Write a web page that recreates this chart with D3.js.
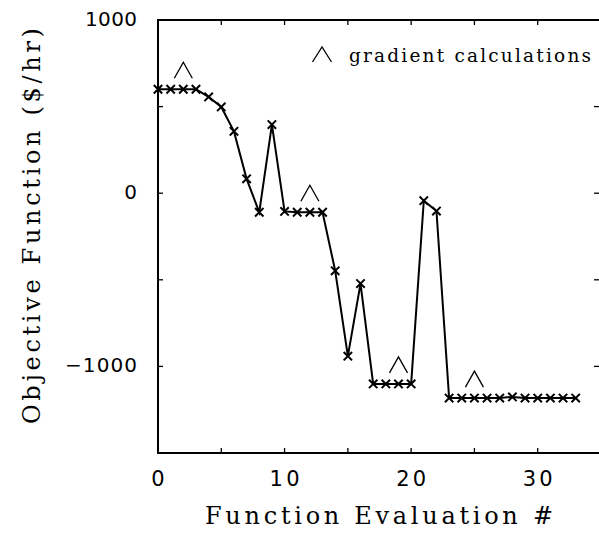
<!DOCTYPE html>
<html><head><meta charset="utf-8">
<script src="https://cdn.jsdelivr.net/npm/d3@7"></script>
<style>body{margin:0;background:#fff}svg{display:block}</style>
</head><body>
<script>
const evals = d3.range(0, 34);
const objective = [600, 600, 600, 600, 556, 498, 357, 83, -110, 396,
  -105, -110, -110, -110, -448, -941, -522, -1101, -1101, -1101,
  -1101, -43, -103, -1183, -1183, -1183, -1183, -1183, -1176, -1183,
  -1183, -1183, -1183, -1183];
const gradientAt = [2, 12, 19, 25];
const xTicks = [0, 10, 20, 30];
const yTicks = [-1000, 0, 1000];
const xMinor = d3.range(0, 36, 5);
const yMinor = d3.range(-1500, 1001, 500);

const W = 599, H = 534;
const svg = d3.select("body").append("svg").attr("width", W).attr("height", H);
const x = d3.scaleLinear().domain([0, 35]).range([158, 601]);
const y = d3.scaleLinear().domain([-1500, 1000]).range([453, 20]);
const serif = "'DejaVu Serif', serif";
const sans = "'DejaVu Sans', sans-serif";

// frame
svg.append("rect").attr("x", x(0)).attr("y", y(1000))
  .attr("width", x(35) - x(0)).attr("height", y(-1500) - y(1000))
  .attr("fill", "none").attr("stroke", "#000").attr("stroke-width", 2);

const tl = 5;
const tk = svg.append("g").attr("stroke", "#000").attr("stroke-width", 1.3);
xMinor.filter(v => v > 0 && v < 35).forEach(v => {
  tk.append("line").attr("x1", x(v)).attr("x2", x(v)).attr("y1", y(-1500)).attr("y2", y(-1500) - tl);
  tk.append("line").attr("x1", x(v)).attr("x2", x(v)).attr("y1", y(1000)).attr("y2", y(1000) + tl);
});
yMinor.filter(v => v > -1500 && v < 1000).forEach(v => {
  tk.append("line").attr("x1", x(0)).attr("x2", x(0) + tl).attr("y1", y(v)).attr("y2", y(v));
  tk.append("line").attr("x1", 599).attr("x2", 599 - tl).attr("y1", y(v)).attr("y2", y(v));
});

// tick labels
xTicks.forEach(v => {
  const t = svg.append("text").attr("x", x(v)).attr("y", 486).attr("text-anchor", "middle")
    .attr("font-family", sans).attr("font-size", 21).text(v);
  if (String(v).length > 1) t.attr("textLength", 30).attr("lengthAdjust", "spacing");
});
yTicks.forEach(v => {
  const s = v < 0 ? "\u22121000" : String(v);
  const t = svg.append("text").attr("x", 137).attr("y", y(v) + 6).attr("text-anchor", "end")
    .attr("font-family", sans).attr("font-size", 20).text(s);
  if (v === 1000) t.attr("textLength", 52).attr("lengthAdjust", "spacing");
  if (v === -1000) t.attr("textLength", 72).attr("lengthAdjust", "spacing");
});

// axis titles
svg.append("text").attr("x", 379).attr("y", 524).attr("text-anchor", "middle")
  .attr("font-family", serif).attr("font-size", 24)
  .attr("textLength", 348).attr("lengthAdjust", "spacing").text("Function Evaluation #");
svg.append("text").attr("transform", "translate(40,226) rotate(-90)").attr("text-anchor", "middle")
  .attr("font-family", serif).attr("font-size", 24)
  .attr("textLength", 396).attr("lengthAdjust", "spacing").text("Objective Function ($/hr)");

// data line
const pts = evals.map((e, i) => [e, objective[i]]);
svg.append("path").datum(pts)
  .attr("d", d3.line().x(d => x(d[0])).y(d => y(d[1])))
  .attr("fill", "none").attr("stroke", "#000").attr("stroke-width", 2);
const s = 4.2;
svg.append("g").selectAll("path").data(pts).join("path")
  .attr("d", d => {
    const cx = x(d[0]), cy = y(d[1]);
    return `M${cx - s},${cy - s}L${cx + s},${cy + s}M${cx - s},${cy + s}L${cx + s},${cy - s}`;
  })
  .attr("stroke", "#000").attr("stroke-width", 2).attr("fill", "none");

// gradient carets
function caret(cx, by, w, h) {
  return `M${cx - w / 2},${by}L${cx},${by - h}L${cx + w / 2},${by}`;
}
svg.append("g").selectAll("path").data(gradientAt).join("path")
  .attr("d", g => caret(x(g), y(objective[g]) - 11, 18, 16))
  .attr("fill", "none").attr("stroke", "#000").attr("stroke-width", 1.3);

// legend
svg.append("path").attr("d", caret(322, 62, 19, 15))
  .attr("fill", "none").attr("stroke", "#000").attr("stroke-width", 1.3);
svg.append("text").attr("x", 349).attr("y", 62).attr("font-family", serif).attr("font-size", 18.5)
  .attr("textLength", 242).attr("lengthAdjust", "spacing").text("gradient calculations");
</script>
</body></html>
